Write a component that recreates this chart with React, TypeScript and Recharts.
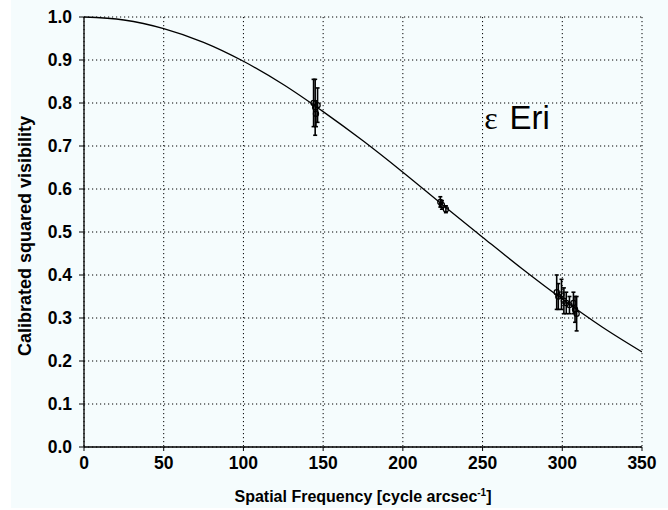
import React from 'react';
import { ComposedChart, Line, Scatter, ErrorBar, XAxis, YAxis, CartesianGrid, Label, ReferenceDot } from 'recharts';

// Model curve
const curveFreq = [0, 25, 50, 75, 100, 125, 150, 175, 200, 225, 250, 275, 300, 325, 350];
const curveV2 = [1.0, 0.993, 0.973, 0.941, 0.897, 0.843, 0.78, 0.712, 0.639, 0.563, 0.488, 0.414, 0.344, 0.279, 0.221];

// Observations
const obsFreq = [144.0, 145.0, 145.5, 146.5, 223.5, 224.5, 227.0, 296.5, 297.5, 299.5, 301.0, 302.5, 304.5, 307.0, 308.0, 309.0];
const obsV2 = [0.8, 0.79, 0.775, 0.795, 0.57, 0.563, 0.553, 0.36, 0.35, 0.355, 0.34, 0.335, 0.33, 0.335, 0.32, 0.31];
const obsErr = [0.055, 0.065, 0.03, 0.04, 0.012, 0.01, 0.008, 0.04, 0.03, 0.035, 0.03, 0.025, 0.02, 0.025, 0.03, 0.04];

const xTicks = [0, 50, 100, 150, 200, 250, 300, 350];
const yTicks = [0, 0.1, 0.2, 0.3, 0.4, 0.5, 0.6, 0.7, 0.8, 0.9, 1.0];

const xTitle = 'Spatial Frequency [cycle arcsec';
const yTitle = 'Calibrated squared visibility';
const starGreek = 'ε';
const starName = 'Eri';

const curveData = curveFreq.map((f, i) => ({ f, v: curveV2[i] }));
const obsData = obsFreq.map((f, i) => ({ f, v: obsV2[i], err: obsErr[i] }));

const FONT = '"Liberation Sans", Arial, sans-serif';
const SERIF = '"Liberation Serif", "Times New Roman", serif';

const Marker = (props: any) => {
  const { cx, cy } = props;
  if (cx == null || cy == null) return null;
  return <circle cx={cx} cy={cy} r={2.6} fill="none" stroke="#000" strokeWidth={1.2} />;
};

const XTitle = (props: any) => {
  const vb = props.viewBox || {};
  const cx = vb.x + vb.width / 2;
  const y = vb.y + vb.height;
  return (
    <text x={cx} y={y} textAnchor="middle" fontFamily={FONT} fontWeight={700} fontSize={16} fill="#000">
      {xTitle}
      <tspan dy={-6} fontSize={10}>-1</tspan>
      <tspan dy={6}>]</tspan>
    </text>
  );
};

const YTitle = (props: any) => {
  const vb = props.viewBox || {};
  const x = 25;
  const y = vb.y + vb.height / 2 + 4;
  return (
    <text x={x} y={y} transform={`rotate(-90 ${x} ${y})`} textAnchor="middle" dominantBaseline="central"
      fontFamily={FONT} fontWeight={700} fontSize={18} fill="#000">
      {yTitle}
    </text>
  );
};

const StarLabel = (props: any) => {
  const vb = props.viewBox || {};
  return (
    <text x={vb.x} y={vb.y} textAnchor="start" fill="#000">
      <tspan fontFamily={SERIF} fontSize={32}>{starGreek}</tspan>
      <tspan dx={12} fontFamily={FONT} fontSize={33}>{starName}</tspan>
    </text>
  );
};

export default function App() {
  return (
    <div style={{ position: 'absolute', left: 0, top: 0, width: 668, height: 510, background: '#fff' }}>
      <div style={{ position: 'absolute', left: 11, top: 0, width: 657, height: 508, background: '#f5fcfd' }} />
      <div style={{ position: 'absolute', left: 0, top: 0 }}>
        <ComposedChart width={668} height={510} margin={{ top: 17, right: 26, bottom: 8, left: 8 }}>
          <CartesianGrid stroke="#000" strokeDasharray="1.2 2.8" strokeWidth={1} />
          <XAxis
            type="number"
            dataKey="f"
            domain={[0, 350]}
            ticks={xTicks}
            allowDataOverflow
            height={55}
            tickSize={4}
            tickMargin={6}
            stroke="#000"
            tick={{ fill: '#000', fontFamily: FONT, fontWeight: 700, fontSize: 17.5 }}
            axisLine={{ stroke: '#000', strokeWidth: 1.3 }}
          >
            <Label content={<XTitle />} />
          </XAxis>
          <YAxis
            type="number"
            domain={[0, 1]}
            ticks={yTicks}
            width={76}
            tickSize={5}
            tickMargin={7}
            stroke="#000"
            tickFormatter={(v: number) => v.toFixed(1)}
            tick={{ fill: '#000', fontFamily: FONT, fontWeight: 700, fontSize: 17.5 }}
            axisLine={{ stroke: '#000', strokeWidth: 1.3 }}
          >
            <Label content={<YTitle />} />
          </YAxis>
          <Line
            data={curveData}
            dataKey="v"
            type="monotone"
            stroke="#000"
            strokeWidth={1.3}
            dot={false}
            activeDot={false}
            isAnimationActive={false}
          />
          <Scatter data={obsData} dataKey="v" shape={<Marker />} isAnimationActive={false}>
            <ErrorBar dataKey="err" direction="y" width={2} stroke="#000" strokeWidth={1.6} />
          </Scatter>
          <ReferenceDot x={251} y={0.74} r={0} fill="none" stroke="none" label={<StarLabel />} />
        </ComposedChart>
      </div>
    </div>
  );
}
